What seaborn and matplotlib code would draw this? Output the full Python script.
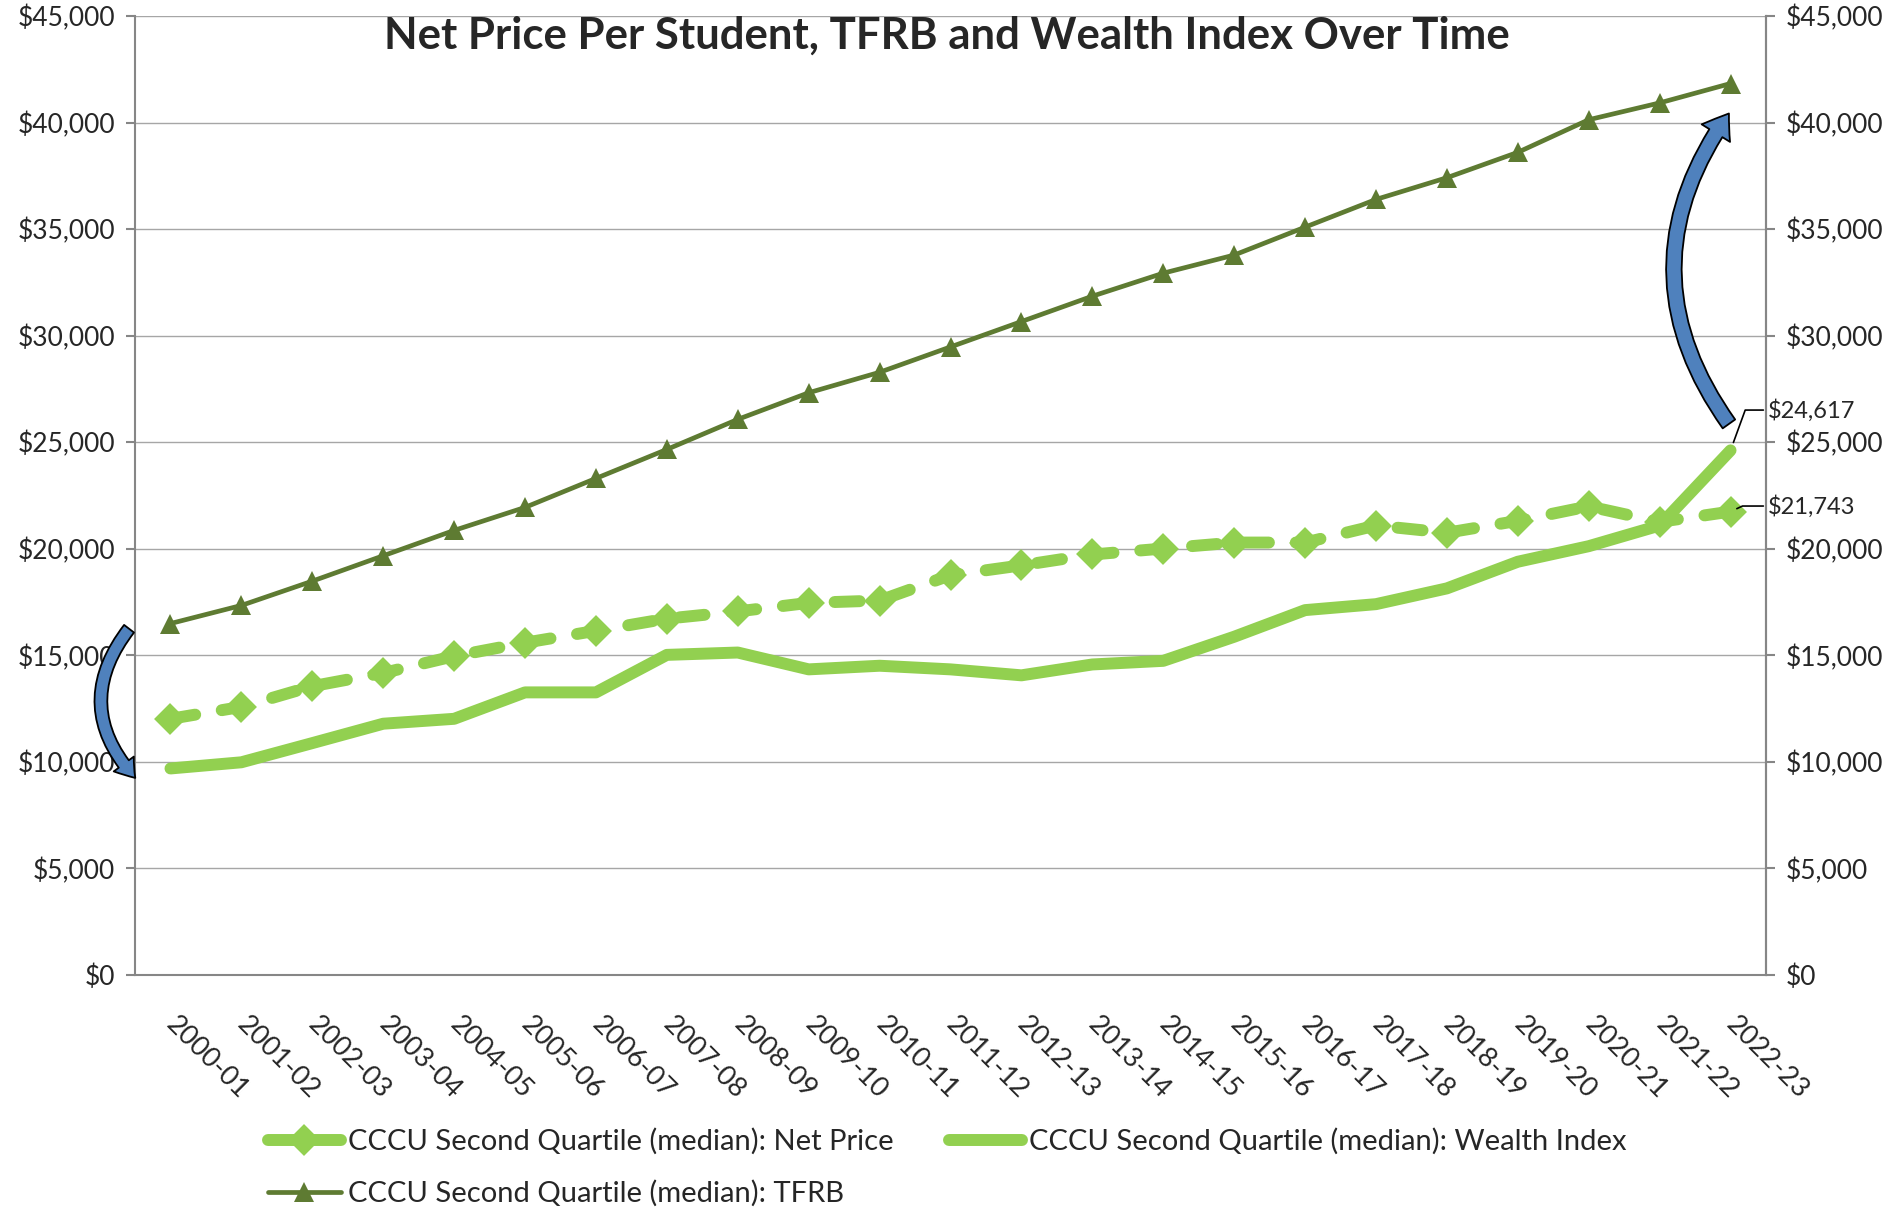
import numpy as np
import pandas as pd
import matplotlib
matplotlib.use("Agg")
import matplotlib.pyplot as plt
import seaborn as sns
from matplotlib.patches import FancyArrowPatch
from matplotlib.lines import Line2D
from matplotlib.ticker import StrMethodFormatter, FixedLocator

years = ["2000-01", "2001-02", "2002-03", "2003-04", "2004-05", "2005-06",
         "2006-07", "2007-08", "2008-09", "2009-10", "2010-11", "2011-12",
         "2012-13", "2013-14", "2014-15", "2015-16", "2016-17", "2017-18",
         "2018-19", "2019-20", "2020-21", "2021-22", "2022-23"]
net_price = [12020, 12580, 13550, 14170, 14960, 15590, 16150, 16720, 17060,
             17460, 17570, 18760, 19220, 19730, 20010, 20290, 20290, 21090,
             20750, 21310, 21990, 21260, 21743]
wealth_index = [9690, 9980, 10880, 11790, 12020, 13260, 13260, 15020, 15130,
                14340, 14510, 14340, 14060, 14570, 14740, 15870, 17120, 17400,
                18140, 19390, 20120, 21090, 24617]
tfrb = [16490, 17340, 18480, 19670, 20860, 21940, 23300, 24660, 26070, 27320,
        28280, 29470, 30660, 31850, 32930, 33780, 35090, 36390, 37410, 38600,
        40130, 40920, 41830]
labels = ["CCCU Second Quartile (median): Net Price",
          "CCCU Second Quartile (median): Wealth Index",
          "CCCU Second Quartile (median): TFRB"]

light_green = "#92D050"
dark_green = "#5E7B32"
grey = "#868686"
arrow_blue = "#4F81BD"

sns.set_style("white")
plt.rcParams["font.family"] = ["Lato", "DejaVu Sans"]

df = pd.DataFrame({"pos": np.arange(len(years)), "net": net_price,
                   "wealth": wealth_index, "tfrb": tfrb})

fig = plt.figure(figsize=(18.91, 12.08), dpi=100)
ax = fig.add_axes([0.0714, 0.1929, 0.8625, 0.7939])

sns.lineplot(data=df, x="pos", y="net", ax=ax, color=light_green, linewidth=8.6,
             linestyle=(0, (2.1, 2.25)), dash_capstyle="round", marker="D",
             markersize=13, markeredgewidth=3, markeredgecolor=light_green,
             legend=False, zorder=3)
sns.lineplot(data=df, x="pos", y="wealth", ax=ax, color=light_green, linewidth=8.6,
             solid_capstyle="round", solid_joinstyle="round", legend=False, zorder=3)
sns.lineplot(data=df, x="pos", y="tfrb", ax=ax, color=dark_green, linewidth=3.4,
             marker="^", markersize=15, markeredgewidth=0, legend=False, zorder=4)

ax.set_xlim(-0.5, len(years) - 0.5)
ax.set_ylim(0, 45000)
yt = np.arange(0, 45001, 5000)
ax.set_yticks(yt)
ax.yaxis.set_major_formatter(StrMethodFormatter("${x:,.0f}"))
ax.set_xticks(np.arange(len(years)))
ax.set_xticklabels(years, rotation=-45, ha="left", va="center", rotation_mode="anchor")
ax.xaxis.set_minor_locator(FixedLocator(np.arange(-0.5, len(years), 1.0)))
ax.tick_params(axis="x", which="major", length=0, pad=33, labelsize=19.5)
ax.tick_params(axis="x", which="minor", length=6.5, width=1.5, color=grey, direction="out")
ax.tick_params(axis="y", length=6.5, width=1.5, color=grey, direction="out", labelsize=19, pad=8)
ax.set_xlabel("")
ax.set_ylabel("")
ax.grid(axis="y", color="#A6A6A6", linewidth=1.0)
ax.grid(axis="x", visible=False)
for side in ["left", "bottom", "right"]:
    ax.spines[side].set_color(grey)
    ax.spines[side].set_linewidth(1.5)
ax.spines["top"].set_visible(False)

ax2 = ax.twinx()
ax2.set_ylim(0, 45000)
ax2.set_yticks(yt)
ax2.yaxis.set_major_formatter(StrMethodFormatter("${x:,.0f}"))
ax2.tick_params(axis="y", length=6.5, width=1.5, color=grey, direction="out", labelsize=19, pad=8)
ax2.grid(False)
for side in ["left", "bottom", "top"]:
    ax2.spines[side].set_visible(False)
ax2.spines["right"].set_color(grey)
ax2.spines["right"].set_linewidth(1.5)

ax.text(0.498, 0.979, "Net Price Per Student, TFRB and Wealth Index Over Time",
        transform=ax.transAxes, ha="center", va="center", fontsize=31.5, fontweight="bold")

# value labels
ax.annotate("$24,617", xy=(len(years) - 1, wealth_index[-1]), xytext=(27, 29),
            textcoords="offset points", ha="left", va="center", fontsize=17,
            arrowprops=dict(arrowstyle="-", color="black", lw=1.2, shrinkA=1, shrinkB=6,
                            connectionstyle="angle,angleA=0,angleB=70,rad=0"))
ax.annotate("$21,743", xy=(len(years) - 1, net_price[-1]), xytext=(27, 4),
            textcoords="offset points", ha="left", va="center", fontsize=17,
            arrowprops=dict(arrowstyle="-", color="black", lw=1.2, shrinkA=1, shrinkB=5,
                            connectionstyle="angle,angleA=0,angleB=25,rad=0"))

# curved arrows
left_arrow = FancyArrowPatch((-0.56, 16350), (-0.47, 9150), connectionstyle="arc3,rad=0.43",
                             arrowstyle="simple,head_length=13,head_width=18,tail_width=9",
                             facecolor=arrow_blue, edgecolor="black", lw=1.3,
                             clip_on=False, zorder=6)
ax.add_patch(left_arrow)
right_arrow = FancyArrowPatch((22, 25750), (22, 40530), connectionstyle="arc3,rad=-0.36",
                              arrowstyle="simple,head_length=17,head_width=24,tail_width=11",
                              facecolor=arrow_blue, edgecolor="black", lw=1.3,
                              clip_on=False, zorder=6)
ax.add_patch(right_arrow)

handles = [
    Line2D([], [], color=light_green, lw=8.6, marker="D", markersize=13,
           markeredgewidth=3, markeredgecolor=light_green, solid_capstyle="round"),
    Line2D([], [], color=dark_green, lw=3.4, marker="^", markersize=15, markeredgewidth=0),
    Line2D([], [], color=light_green, lw=8.6, solid_capstyle="round"),
]
fig.legend(handles, [labels[0], labels[2], labels[1]], loc="upper left",
           bbox_to_anchor=(0.1417, 0.066), ncol=2, frameon=False, fontsize=21,
           borderpad=0, borderaxespad=0, handlelength=2.5, handletextpad=0.25,
           columnspacing=1.9, labelspacing=0.85)

fig.savefig("out.png", dpi=100)
